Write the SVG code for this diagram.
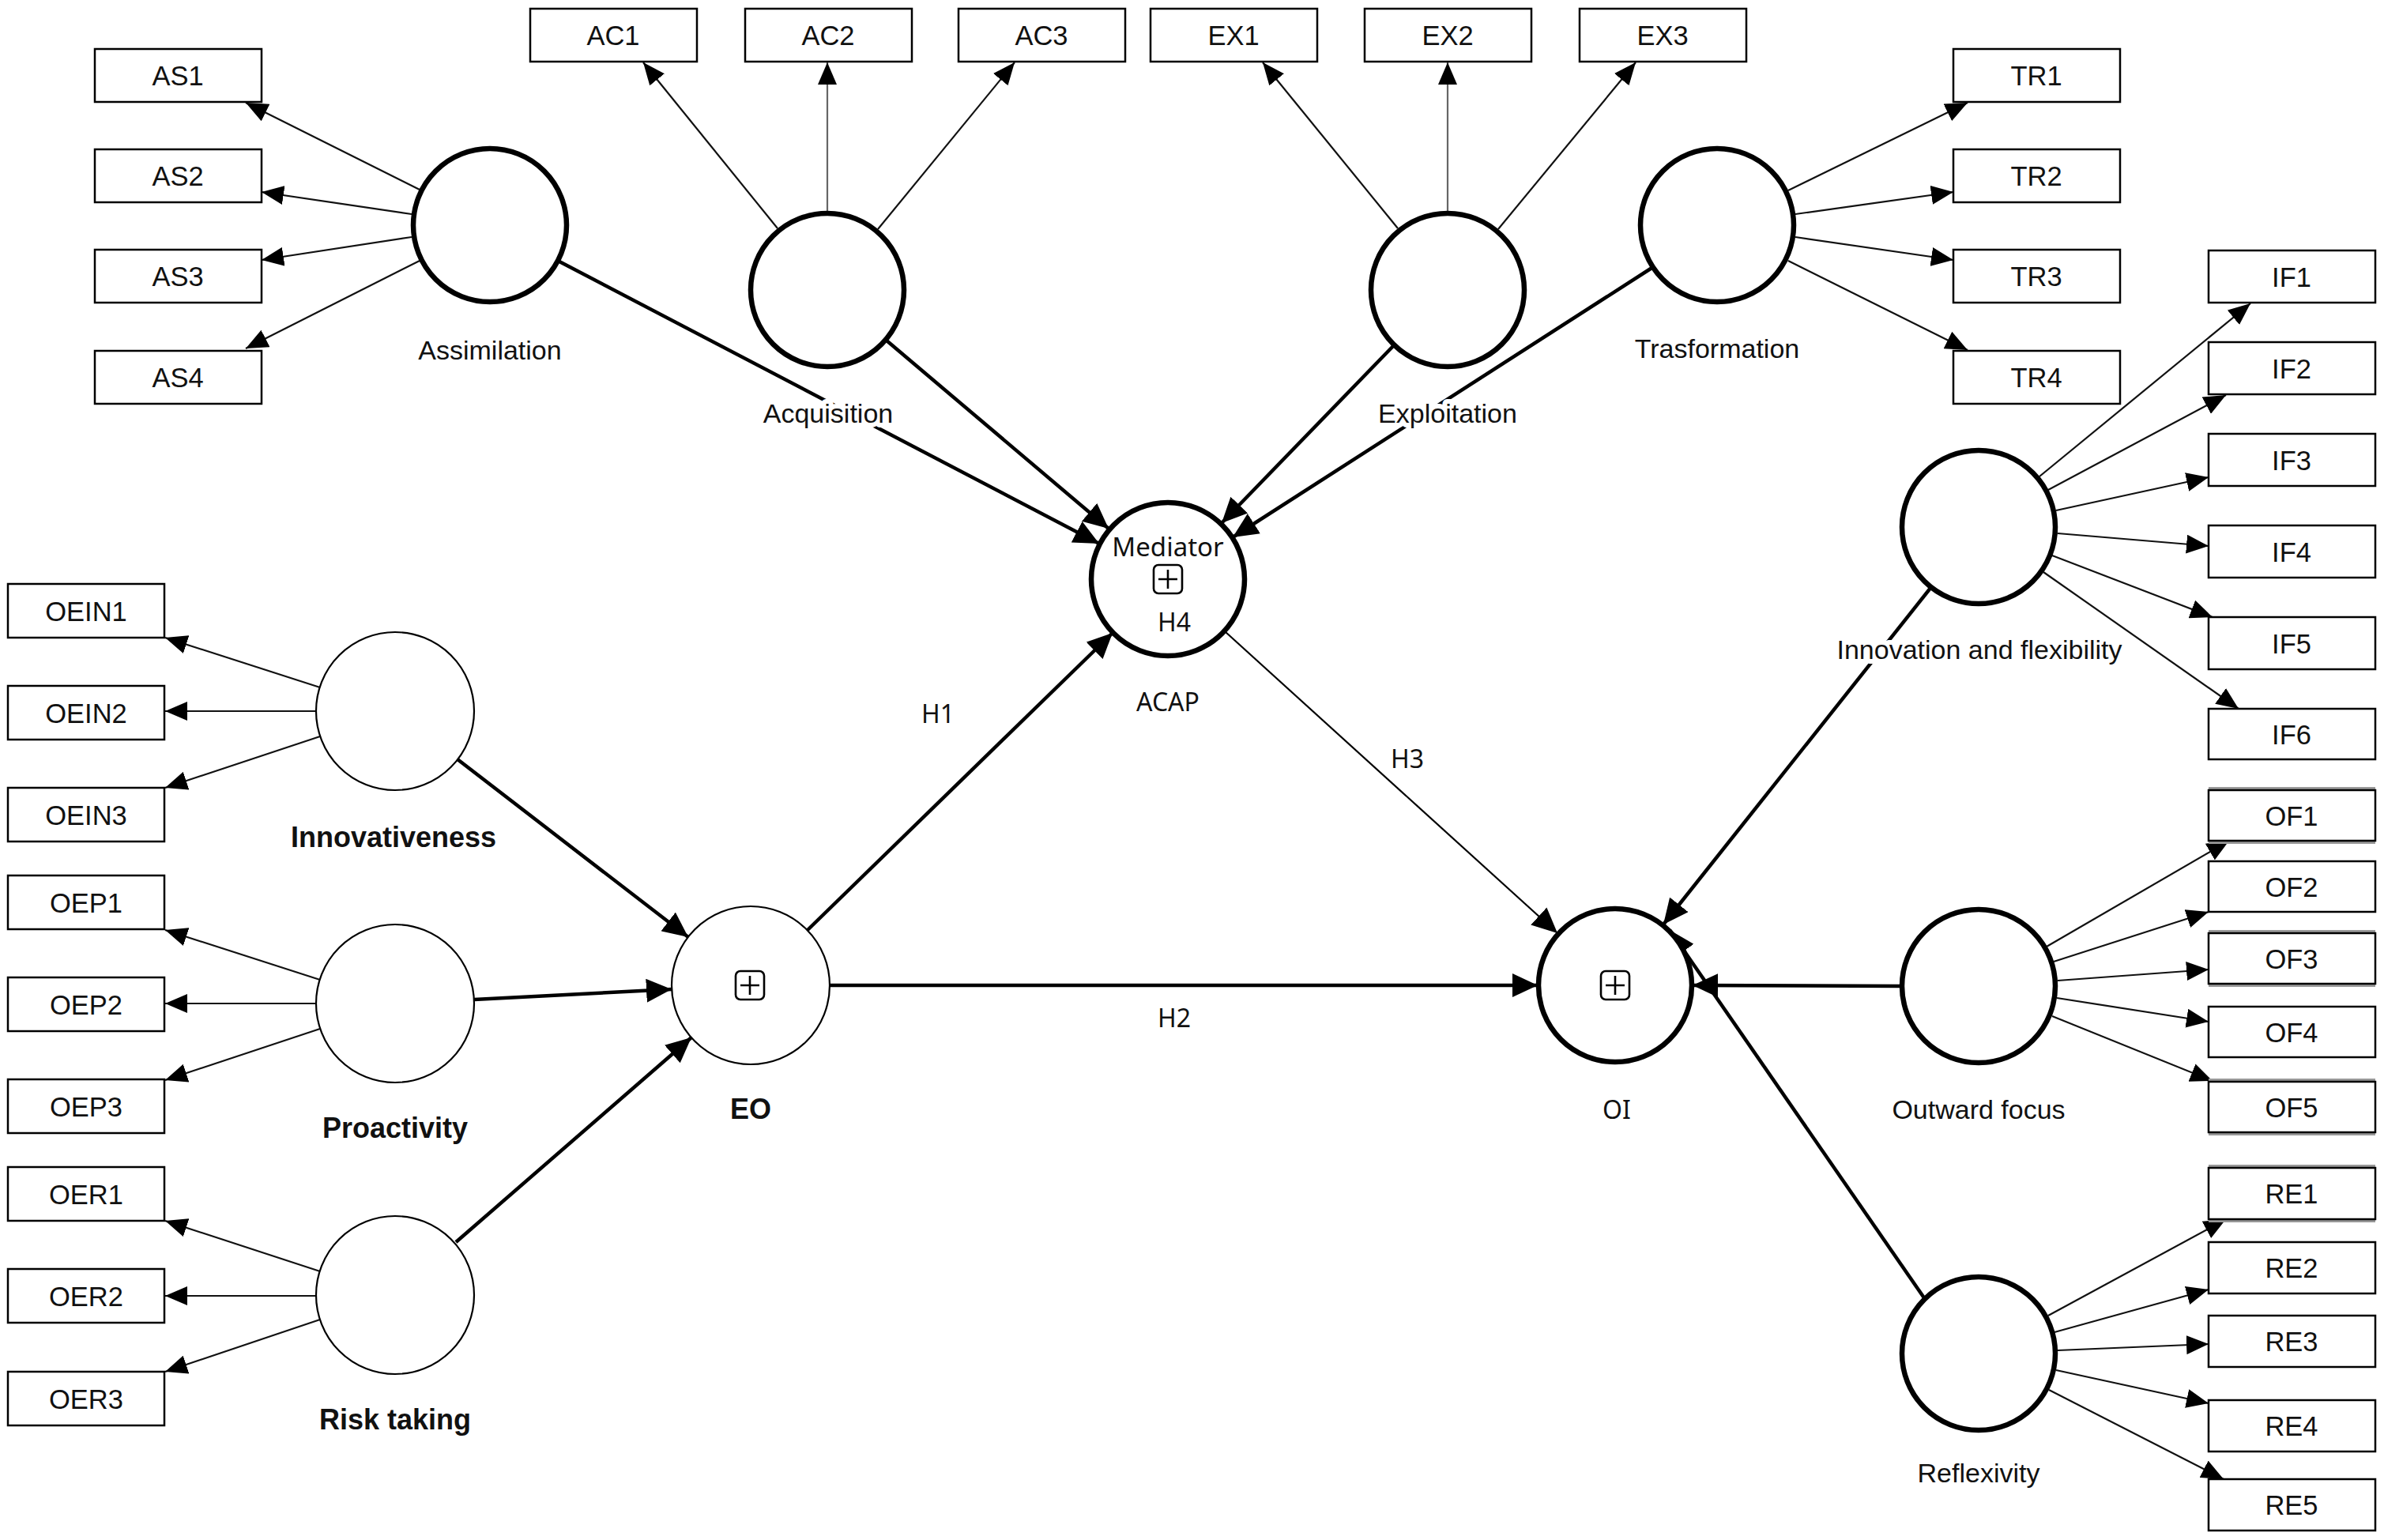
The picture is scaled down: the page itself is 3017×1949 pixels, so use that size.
<svg xmlns="http://www.w3.org/2000/svg" width="3017" height="1949" viewBox="0 0 3017 1949">
<style>
.box{fill:#fff;stroke:#000;stroke-width:2.5}
.it{font-family:"Liberation Sans",Arial,sans-serif;font-size:34.5px;fill:#111;text-anchor:middle}
.cl{font-family:"Liberation Sans",Arial,sans-serif;font-size:34px;fill:#111;text-anchor:middle;paint-order:stroke;stroke:#fff;stroke-width:12px;stroke-linejoin:round}
.cb{font-family:"Liberation Sans",Arial,sans-serif;font-size:36px;font-weight:bold;fill:#111;text-anchor:middle}
.sg{font-family:"Noto Sans","DejaVu Sans",sans-serif;font-size:32px;fill:#111;text-anchor:middle}
.thick{fill:#fff;stroke:#000;stroke-width:6.5}
.thin{fill:#fff;stroke:#000;stroke-width:2.2}
.ind{fill:none;stroke:#111;stroke-width:2.2;marker-end:url(#a1)}
.str{fill:none;stroke:#000;stroke-width:4.5;marker-end:url(#a2)}
.h3{fill:none;stroke:#000;stroke-width:2.2;marker-end:url(#a2)}
.gr{stroke:#999;stroke-width:4;fill:none}
.sym{fill:none;stroke:#000;stroke-width:2.6}
</style>
<defs>
<marker id="a1" viewBox="0 0 28 24" refX="28" refY="12" markerWidth="28" markerHeight="24" markerUnits="userSpaceOnUse" orient="auto"><path d="M0,0 L28,12 L0,24 z" fill="#000"/></marker>
<marker id="a2" viewBox="0 0 32 30" refX="32" refY="15" markerWidth="32" markerHeight="30" markerUnits="userSpaceOnUse" orient="auto"><path d="M0,0 L32,15 L0,30 z" fill="#000"/></marker>
</defs>
<rect width="3017" height="1949" fill="#fff"/>

<g id="connectors">
<path class="ind" d="M531,240 L311,130"/>
<path class="ind" d="M521,271 L331,243"/>
<path class="ind" d="M521,300 L331,329"/>
<path class="ind" d="M531,330 L311,441"/>
<path class="ind" d="M984,289 L814,79"/>
<path class="ind" d="M1047,267 L1047,79" style="stroke:#666"/>
<path class="ind" d="M1111,290 L1284,79"/>
<path class="ind" d="M1769,289 L1598,79"/>
<path class="ind" d="M1832,267 L1832,79" style="stroke:#666"/>
<path class="ind" d="M1896,290 L2070,79"/>
<path class="ind" d="M2263,241 L2490,130"/>
<path class="ind" d="M2272,271 L2472,243"/>
<path class="ind" d="M2272,300 L2472,329"/>
<path class="ind" d="M2263,330 L2490,443"/>
<path class="ind" d="M2581,603 L2848,384"/>
<path class="ind" d="M2592,620 L2817,500"/>
<path class="ind" d="M2602,646 L2795,604"/>
<path class="ind" d="M2604,675 L2795,691"/>
<path class="ind" d="M2597,703 L2800,781"/>
<path class="ind" d="M2586,724 L2833,897"/>
<path class="ind" d="M2590,1198 L2821,1064"/>
<path class="ind" d="M2599,1217 L2795,1154"/>
<path class="ind" d="M2604,1241 L2795,1227"/>
<path class="ind" d="M2603,1263 L2795,1293"/>
<path class="ind" d="M2597,1286 L2800,1368"/>
<path class="ind" d="M2592,1665 L2817,1543"/>
<path class="ind" d="M2600,1686 L2795,1632"/>
<path class="ind" d="M2604,1709 L2795,1701"/>
<path class="ind" d="M2602,1734 L2795,1776"/>
<path class="ind" d="M2593,1759 L2814,1872"/>
<path class="ind" d="M405,870 L209,807"/>
<path class="ind" d="M400,900 L209,900"/>
<path class="ind" d="M405,932 L209,997"/>
<path class="ind" d="M405,1240 L209,1177"/>
<path class="ind" d="M400,1270 L209,1270"/>
<path class="ind" d="M405,1302 L209,1367"/>
<path class="ind" d="M405,1609 L209,1545"/>
<path class="ind" d="M400,1640 L209,1640"/>
<path class="ind" d="M405,1670 L209,1736"/>
<path class="str" d="M706,330 L1391,688"/>
<path class="str" d="M1122,431 L1403,669"/>
<path class="str" d="M1764,437 L1546,662"/>
<path class="str" d="M2092,338 L1560,680"/>
<path class="str" d="M579,961 L871,1186"/>
<path class="str" d="M600,1265 L850,1252"/>
<path class="str" d="M577,1572 L875,1313"/>
<path class="str" d="M1022,1177 L1408,801"/>
<path class="str" d="M1050,1247 L1946,1247"/>
<path class="h3" d="M1550,799 L1971,1181"/>
<path class="str" d="M2444,743 L2105,1170"/>
<path class="str" d="M2407,1248 L2142,1247"/>
<path class="str" d="M2436,1644 L2113,1177"/>
</g>

<g id="AS1"><rect class="box" x="120" y="62" width="211" height="67"/><text class="it" x="225" y="108">AS1</text></g>
<g id="AS2"><rect class="box" x="120" y="189" width="211" height="67"/><text class="it" x="225" y="235">AS2</text></g>
<g id="AS3"><rect class="box" x="120" y="316" width="211" height="67"/><text class="it" x="225" y="362">AS3</text></g>
<g id="AS4"><rect class="box" x="120" y="444" width="211" height="67"/><text class="it" x="225" y="490">AS4</text></g>

<g id="AC1"><rect class="box" x="671" y="11" width="211" height="67"/><text class="it" x="776" y="57">AC1</text></g>
<g id="AC2"><rect class="box" x="943" y="11" width="211" height="67"/><text class="it" x="1048" y="57">AC2</text></g>
<g id="AC3"><rect class="box" x="1213" y="11" width="211" height="67"/><text class="it" x="1318" y="57">AC3</text></g>
<g id="EX1"><rect class="box" x="1456" y="11" width="211" height="67"/><text class="it" x="1561" y="57">EX1</text></g>
<g id="EX2"><rect class="box" x="1727" y="11" width="211" height="67"/><text class="it" x="1832" y="57">EX2</text></g>
<g id="EX3"><rect class="box" x="1999" y="11" width="211" height="67"/><text class="it" x="2104" y="57">EX3</text></g>

<g id="TR1"><rect class="box" x="2472" y="62" width="211" height="67"/><text class="it" x="2577" y="108">TR1</text></g>
<g id="TR2"><rect class="box" x="2472" y="189" width="211" height="67"/><text class="it" x="2577" y="235">TR2</text></g>
<g id="TR3"><rect class="box" x="2472" y="316" width="211" height="67"/><text class="it" x="2577" y="362">TR3</text></g>
<g id="TR4"><rect class="box" x="2472" y="444" width="211" height="67"/><text class="it" x="2577" y="490">TR4</text></g>

<g id="IF1"><rect class="box" x="2795" y="317" width="211" height="66"/><text class="it" x="2900" y="363">IF1</text></g>
<g id="IF2"><rect class="box" x="2795" y="433" width="211" height="66"/><text class="it" x="2900" y="479">IF2</text></g>
<g id="IF3"><rect class="box" x="2795" y="549" width="211" height="66"/><text class="it" x="2900" y="595">IF3</text></g>
<g id="IF4"><rect class="box" x="2795" y="665" width="211" height="66"/><text class="it" x="2900" y="711">IF4</text></g>
<g id="IF5"><rect class="box" x="2795" y="781" width="211" height="66"/><text class="it" x="2900" y="827">IF5</text></g>
<g id="IF6"><rect class="box" x="2795" y="897" width="211" height="64"/><text class="it" x="2900" y="942">IF6</text></g>

<g id="OF1"><path class="gr" d="M2795,998 H3006 M2795,1066 H3006"/><rect class="box" x="2795" y="1000" width="211" height="64"/><text class="it" x="2900" y="1045">OF1</text></g>
<g id="OF2"><rect class="box" x="2795" y="1090" width="211" height="64"/><text class="it" x="2900" y="1135">OF2</text></g>
<g id="OF3"><path class="gr" d="M2795,1179 H3006 M2795,1247 H3006"/><rect class="box" x="2795" y="1181" width="211" height="64"/><text class="it" x="2900" y="1226">OF3</text></g>
<g id="OF4"><rect class="box" x="2795" y="1274" width="211" height="64"/><text class="it" x="2900" y="1319">OF4</text></g>
<g id="OF5"><path class="gr" d="M2795,1367 H3006 M2795,1435 H3006"/><rect class="box" x="2795" y="1369" width="211" height="64"/><text class="it" x="2900" y="1414">OF5</text></g>

<g id="RE1"><path class="gr" d="M2795,1476 H3006 M2795,1545 H3006"/><rect class="box" x="2795" y="1478" width="211" height="65"/><text class="it" x="2900" y="1523">RE1</text></g>
<g id="RE2"><rect class="box" x="2795" y="1572" width="211" height="65"/><text class="it" x="2900" y="1617">RE2</text></g>
<g id="RE3"><rect class="box" x="2795" y="1665" width="211" height="65"/><text class="it" x="2900" y="1710">RE3</text></g>
<g id="RE4"><rect class="box" x="2795" y="1772" width="211" height="65"/><text class="it" x="2900" y="1817">RE4</text></g>
<g id="RE5"><rect class="box" x="2795" y="1872" width="211" height="65"/><text class="it" x="2900" y="1917">RE5</text></g>

<g id="OEIN1"><rect class="box" x="10" y="739" width="198" height="68"/><text class="it" x="109" y="786">OEIN1</text></g>
<g id="OEIN2"><rect class="box" x="10" y="868" width="198" height="68"/><text class="it" x="109" y="915">OEIN2</text></g>
<g id="OEIN3"><rect class="box" x="10" y="997" width="198" height="68"/><text class="it" x="109" y="1044">OEIN3</text></g>
<g id="OEP1"><rect class="box" x="10" y="1108" width="198" height="68"/><text class="it" x="109" y="1155">OEP1</text></g>
<g id="OEP2"><rect class="box" x="10" y="1237" width="198" height="68"/><text class="it" x="109" y="1284">OEP2</text></g>
<g id="OEP3"><rect class="box" x="10" y="1366" width="198" height="68"/><text class="it" x="109" y="1413">OEP3</text></g>
<g id="OER1"><rect class="box" x="10" y="1477" width="198" height="68"/><text class="it" x="109" y="1524">OER1</text></g>
<g id="OER2"><rect class="box" x="10" y="1606" width="198" height="68"/><text class="it" x="109" y="1653">OER2</text></g>
<g id="OER3"><rect class="box" x="10" y="1736" width="198" height="68"/><text class="it" x="109" y="1783">OER3</text></g>

<g id="Assimilation"><circle class="thick" cx="620" cy="285" r="97"/><text class="cl" x="620" y="455">Assimilation</text></g>
<g id="Acquisition"><circle class="thick" cx="1047" cy="367" r="97"/><text class="cl" x="1048" y="535">Acquisition</text></g>
<g id="Exploitation"><circle class="thick" cx="1832" cy="367" r="97"/><text class="cl" x="1832" y="535">Exploitation</text></g>
<g id="Trasformation"><circle class="thick" cx="2173" cy="285" r="97"/><text class="cl" x="2173" y="453">Trasformation</text></g>
<g id="InnovationFlexibility"><circle class="thick" cx="2504" cy="667" r="97"/><text class="cl" x="2505" y="834">Innovation and flexibility</text></g>
<g id="OutwardFocus"><circle class="thick" cx="2504" cy="1248" r="97"/><text class="cl" x="2504" y="1416">Outward focus</text></g>
<g id="Reflexivity"><circle class="thick" cx="2504" cy="1713" r="97"/><text class="cl" x="2504" y="1876">Reflexivity</text></g>

<g id="Innovativeness"><circle class="thin" cx="500" cy="900" r="100"/><text class="cb" x="498" y="1072">Innovativeness</text></g>
<g id="Proactivity"><circle class="thin" cx="500" cy="1270" r="100"/><text class="cb" x="500" y="1440">Proactivity</text></g>
<g id="RiskTaking"><circle class="thin" cx="500" cy="1639" r="100"/><text class="cb" x="500" y="1809">Risk taking</text></g>

<g id="EO"><circle class="thin" cx="950" cy="1247" r="100"/>
<rect class="sym" x="931" y="1229" width="36" height="36" rx="6"/><path class="sym" d="M949,1235 V1259 M937,1247 H961"/>
<text class="cb" x="950" y="1416">EO</text></g>

<g id="ACAP"><circle class="thick" cx="1478" cy="733" r="97"/>
<text class="sg" x="1478" y="704" style="font-size:33px">Mediator</text>
<rect class="sym" x="1460" y="715" width="36" height="36" rx="6"/><path class="sym" d="M1478,721 V745 M1466,733 H1490"/>
<text class="sg" x="1486" y="799">H4</text>
<text class="sg" x="1478" y="900">ACAP</text></g>

<g id="OI"><circle class="thick" cx="2044" cy="1247" r="97"/>
<rect class="sym" x="2026" y="1229" width="36" height="36" rx="6"/><path class="sym" d="M2044,1235 V1259 M2032,1247 H2056"/>
<text class="sg" x="2046" y="1416">OI</text></g>

<g id="edge-labels">
<text class="sg" x="1187" y="915">H1</text>
<text class="sg" x="1486" y="1300">H2</text>
<text class="sg" x="1781" y="972">H3</text>
</g>
</svg>
